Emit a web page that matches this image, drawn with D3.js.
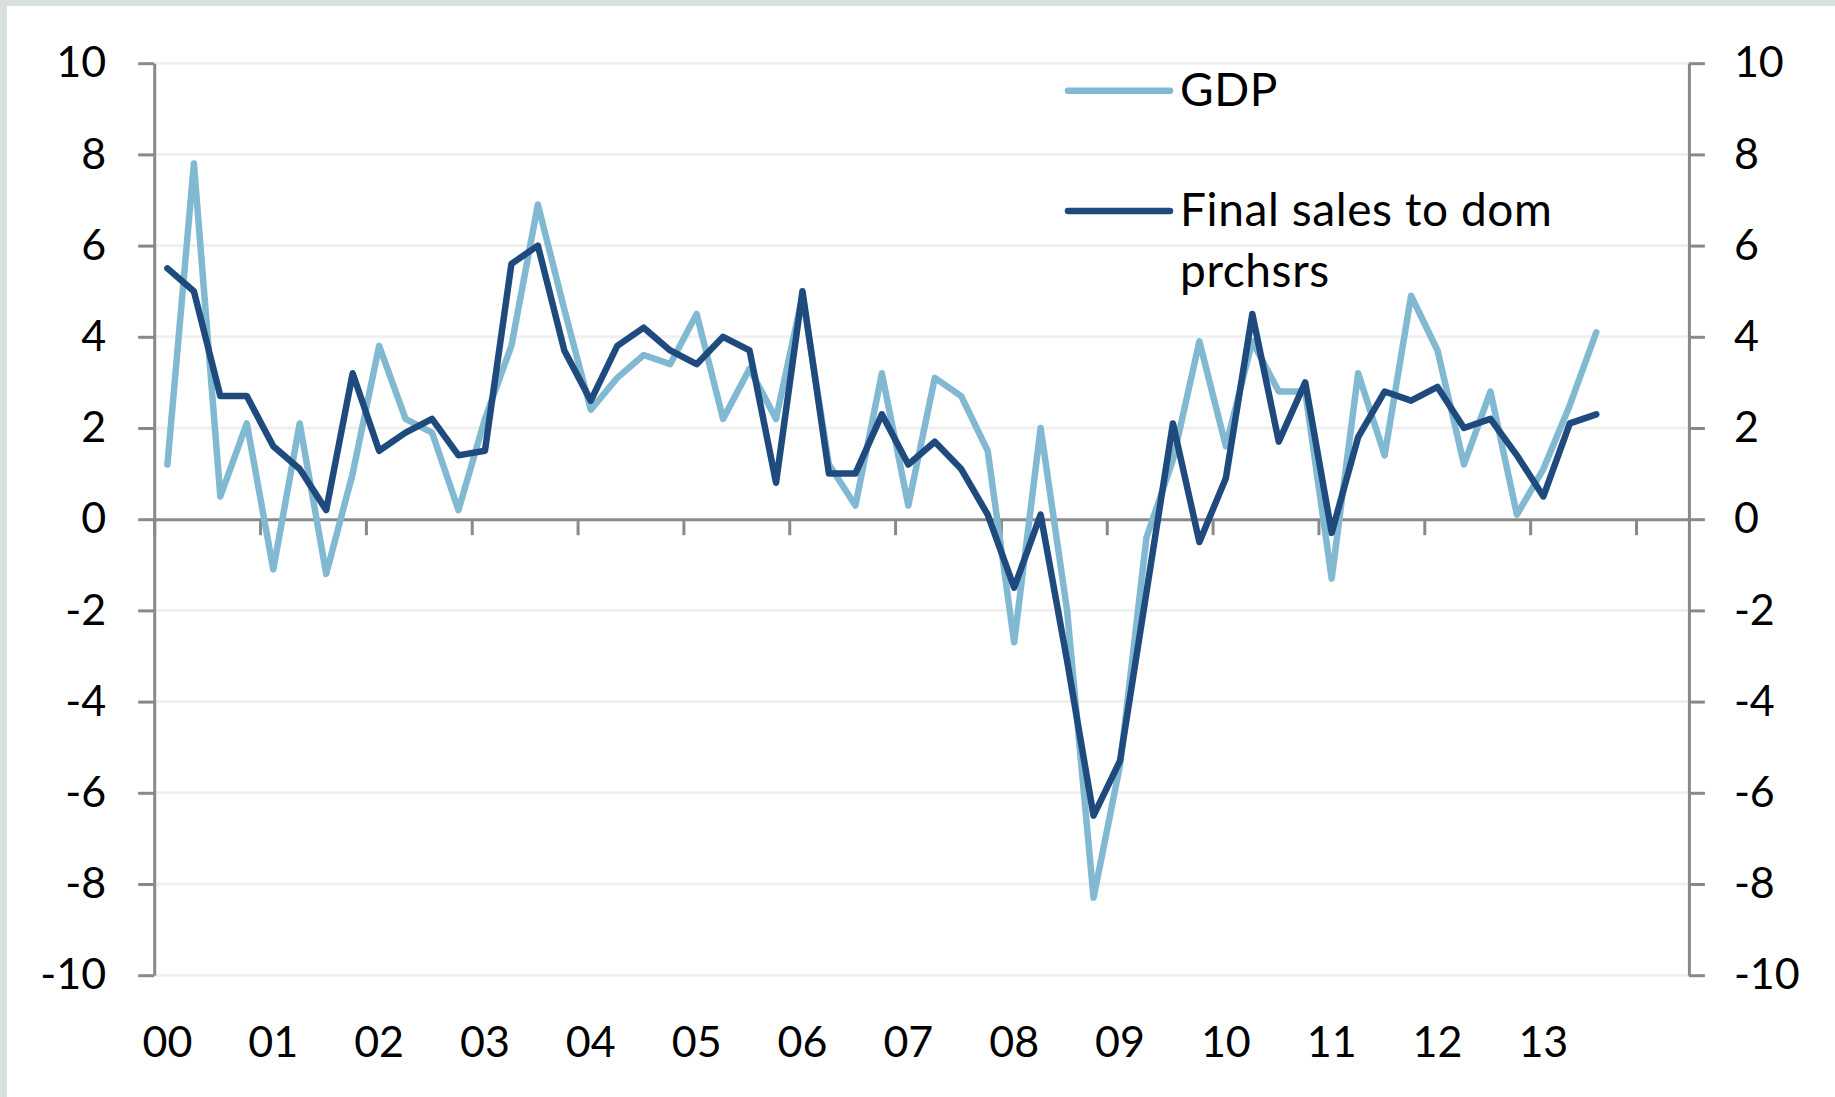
<!DOCTYPE html>
<html>
<head>
<meta charset="utf-8">
<script src="https://cdn.jsdelivr.net/npm/d3@7"></script>
<style>
  html, body { margin: 0; padding: 0; background: #ffffff; }
  svg { display: block; }
  text { font-family: Lato, "Liberation Sans", sans-serif; fill: #000; }
</style>
</head>
<body>
<svg id="plot" width="1835" height="1097"></svg>
<script>
// Real GDP vs final sales to domestic purchasers, % q/q saar, 2000Q1 - 2013Q3
var gdp = [
  1.2, 7.8, 0.5, 2.1,   -1.1, 2.1, -1.2, 1.0,   3.8, 2.2, 1.9, 0.2,
  2.2, 3.8, 6.9, 4.6,    2.4, 3.1, 3.6, 3.4,   4.5, 2.2, 3.3, 2.2,
  4.9, 1.2, 0.3, 3.2,    0.3, 3.1, 2.7, 1.5,  -2.7, 2.0, -2.0, -8.3,
  -5.4, -0.4, 1.3, 3.9,  1.6, 3.9, 2.8, 2.8,  -1.3, 3.2, 1.4, 4.9,
  3.7, 1.2, 2.8, 0.1,    1.1, 2.5, 4.1
];
var finalSales = [
  5.5, 5.0, 2.7, 2.7,    1.6, 1.1, 0.2, 3.2,   1.5, 1.9, 2.2, 1.4,
  1.5, 5.6, 6.0, 3.7,    2.6, 3.8, 4.2, 3.7,   3.4, 4.0, 3.7, 0.8,
  5.0, 1.0, 1.0, 2.3,    1.2, 1.7, 1.1, 0.1,  -1.5, 0.1, -3.1, -6.5,
  -5.3, -1.6, 2.1, -0.5, 0.9, 4.5, 1.7, 3.0,  -0.3, 1.8, 2.8, 2.6,
  2.9, 2.0, 2.2, 1.4,    0.5, 2.1, 2.3
];
var seriesNames = ['GDP', 'Final sales to dom prchsrs'];
var seriesColors = ['#80b9d1', '#1f4a7e'];
var yearLabels = ['00', '01', '02', '03', '04', '05', '06', '07', '08', '09', '10', '11', '12', '13'];
var yTicks = [-10, -8, -6, -4, -2, 0, 2, 4, 6, 8, 10];

// category axis runs 2000Q1 .. 2014Q2, leaving room after the last quarter
var quarters = d3.range(58).map(function (i) {
  return (2000 + Math.floor(i / 4)) + 'Q' + (i % 4 + 1);
});

var width = +d3.select('#plot').attr('width');
var height = +d3.select('#plot').attr('height');
var plotLeft = 154.2;
var plotRight = 1688.9;
var plotTop = 63.2;
var plotBottom = 975.2;
var fontSize = 43;
var legendFontSize = 46;

var svg = d3.select('#plot');

// grey frame on top and left of the chart area
svg.append('rect').attr('width', width).attr('height', height).attr('fill', '#d9dfdf');
svg.append('rect').attr('x', 7).attr('y', 6).attr('width', width).attr('height', height).attr('fill', '#ffffff');

var xScale = d3.scaleBand()
  .domain(quarters)
  .range([plotLeft, plotRight]);

var yScale = d3.scaleLinear()
  .domain([-10, 10])
  .range([plotBottom, plotTop]);

function xCenter(i) {
  return xScale(quarters[i]) + xScale.bandwidth() / 2;
}

// plain hyphen minus, like the original
function plainNumber(d) {
  return String(d);
}

// horizontal gridlines
svg.append('g')
  .selectAll('line')
  .data(yTicks.filter(function (d) { return d !== 0; }))
  .enter()
  .append('line')
  .attr('x1', plotLeft)
  .attr('x2', plotRight)
  .attr('y1', function (d) { return yScale(d); })
  .attr('y2', function (d) { return yScale(d); })
  .attr('stroke', '#f0f0f0')
  .attr('stroke-width', 3);

// left and right value axes
function styleAxis(g) {
  g.selectAll('.domain').attr('stroke', '#898989').attr('stroke-width', 3);
  g.selectAll('.tick line').attr('stroke', '#898989').attr('stroke-width', 3);
  g.selectAll('.tick text')
    .attr('font-family', 'Lato, "Liberation Sans", sans-serif')
    .attr('font-size', fontSize)
    .attr('fill', '#000');
}

svg.append('g')
  .attr('transform', 'translate(' + plotLeft + ',0)')
  .call(d3.axisLeft(yScale).tickValues(yTicks).tickFormat(plainNumber)
    .tickSize(16).tickSizeOuter(0).tickPadding(32))
  .call(styleAxis);

svg.append('g')
  .attr('transform', 'translate(' + plotRight + ',0)')
  .call(d3.axisRight(yScale).tickValues(yTicks).tickFormat(plainNumber)
    .tickSize(16).tickSizeOuter(0).tickPadding(29))
  .call(styleAxis);

// zero line with a tick at every year boundary
var boundary = d3.scaleLinear().domain([0, quarters.length]).range([plotLeft, plotRight]);
svg.append('g')
  .attr('transform', 'translate(0,' + yScale(0) + ')')
  .call(d3.axisBottom(boundary).tickValues(d3.range(0, quarters.length, 4)).tickSize(16).tickSizeOuter(0).tickFormat(''))
  .call(styleAxis);

// year labels under the plot, centred on each first quarter
var labelAxis = d3.axisBottom(xScale)
  .tickValues(yearLabels.map(function (d, k) { return quarters[k * 4]; }))
  .tickFormat(function (d, k) { return yearLabels[k]; })
  .tickSize(0)
  .tickPadding(51);
svg.append('g')
  .attr('transform', 'translate(0,' + plotBottom + ')')
  .call(labelAxis)
  .call(styleAxis)
  .call(function (g) { g.select('.domain').remove(); });

// the two lines, GDP underneath
var line = d3.line()
  .x(function (d, i) { return xCenter(i); })
  .y(function (d) { return yScale(d); });

svg.append('g')
  .selectAll('path')
  .data([gdp, finalSales])
  .enter()
  .append('path')
  .attr('d', line)
  .attr('fill', 'none')
  .attr('stroke', function (d, i) { return seriesColors[i]; })
  .attr('stroke-width', 6.5)
  .attr('stroke-linejoin', 'round')
  .attr('stroke-linecap', 'round');

// legend
var legendX = 1068;
var legendRows = [
  { y: 90.7, lines: [seriesNames[0]] },
  { y: 211, lines: ['Final sales to dom', 'prchsrs'] }
];
var legend = svg.append('g');
legendRows.forEach(function (row, i) {
  legend.append('line')
    .attr('x1', legendX)
    .attr('x2', legendX + 102)
    .attr('y1', row.y)
    .attr('y2', row.y)
    .attr('stroke', seriesColors[i])
    .attr('stroke-width', 6.5)
    .attr('stroke-linecap', 'round');
  var label = legend.append('text')
    .attr('x', legendX + 112)
    .attr('y', row.y + 15)
    .attr('font-size', legendFontSize)
    .attr('letter-spacing', 0.6);
  row.lines.forEach(function (t, k) {
    label.append('tspan')
      .attr('x', legendX + 112)
      .attr('dy', k === 0 ? 0 : 61)
      .text(t);
  });
});
</script>
</body>
</html>
